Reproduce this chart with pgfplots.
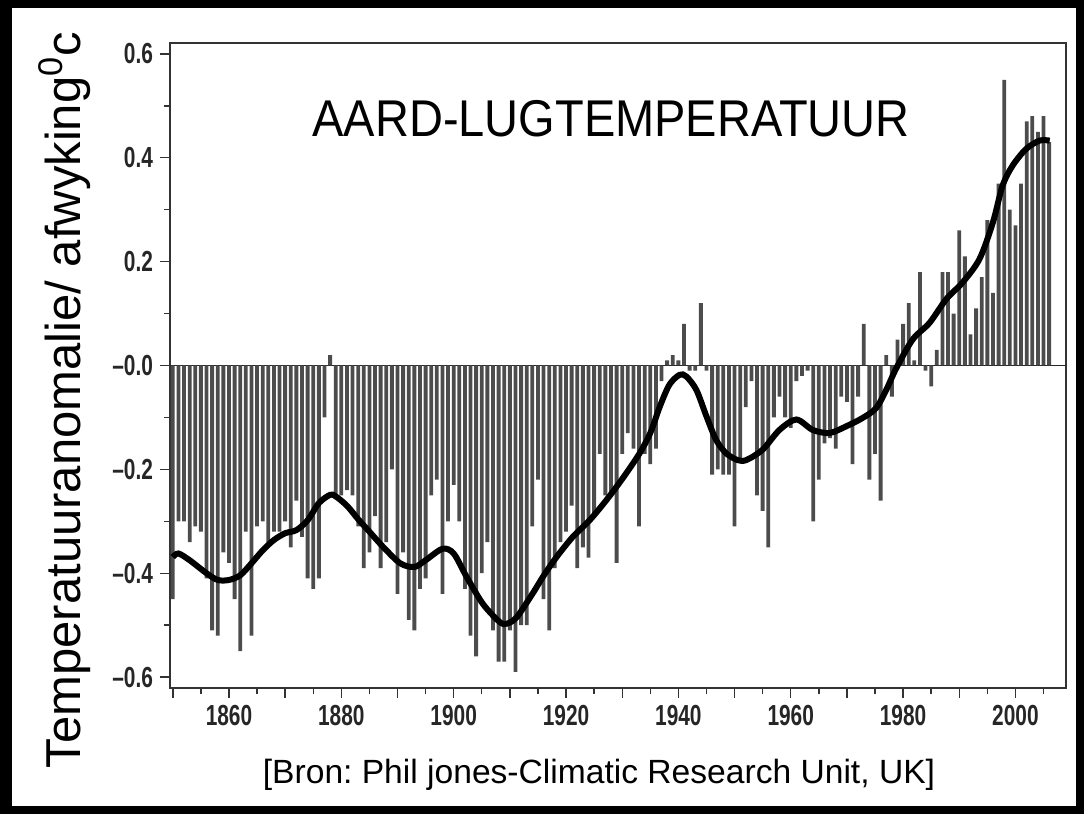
\documentclass[border=0pt]{standalone}
\usepackage{fontspec}
\setmainfont{Liberation Sans}
\usepackage{pgfplots}
\pgfplotsset{compat=1.18}
\usepackage{graphicx}
\frenchspacing

\newcommand\tl[1]{\scalebox{0.72}[1]{#1}}

% annual anomaly bars
\pgfplotstableread{
year val
1850 -0.45
1851 -0.30
1852 -0.30
1853 -0.34
1854 -0.31
1855 -0.32
1856 -0.41
1857 -0.51
1858 -0.52
1859 -0.36
1860 -0.38
1861 -0.45
1862 -0.55
1863 -0.32
1864 -0.52
1865 -0.31
1866 -0.30
1867 -0.34
1868 -0.32
1869 -0.32
1870 -0.30
1871 -0.35
1872 -0.26
1873 -0.33
1874 -0.41
1875 -0.43
1876 -0.41
1877 -0.10
1878 0.02
1879 -0.25
1880 -0.25
1881 -0.24
1882 -0.25
1883 -0.31
1884 -0.39
1885 -0.36
1886 -0.29
1887 -0.39
1888 -0.34
1889 -0.20
1890 -0.44
1891 -0.36
1892 -0.49
1893 -0.51
1894 -0.43
1895 -0.41
1896 -0.25
1897 -0.22
1898 -0.44
1899 -0.30
1900 -0.23
1901 -0.30
1902 -0.43
1903 -0.52
1904 -0.56
1905 -0.40
1906 -0.34
1907 -0.51
1908 -0.57
1909 -0.57
1910 -0.51
1911 -0.59
1912 -0.50
1913 -0.50
1914 -0.31
1915 -0.22
1916 -0.45
1917 -0.51
1918 -0.39
1919 -0.34
1920 -0.32
1921 -0.27
1922 -0.39
1923 -0.35
1924 -0.37
1925 -0.29
1926 -0.17
1927 -0.25
1928 -0.25
1929 -0.38
1930 -0.17
1931 -0.13
1932 -0.16
1933 -0.31
1934 -0.17
1935 -0.19
1936 -0.16
1937 -0.03
1938 0.01
1939 0.02
1940 0.01
1941 0.08
1942 -0.01
1943 -0.01
1944 0.12
1945 -0.01
1946 -0.21
1947 -0.20
1948 -0.21
1949 -0.21
1950 -0.31
1951 -0.18
1952 -0.08
1953 -0.03
1954 -0.25
1955 -0.28
1956 -0.35
1957 -0.10
1958 -0.06
1959 -0.10
1960 -0.12
1961 -0.03
1962 -0.02
1963 -0.01
1964 -0.30
1965 -0.22
1966 -0.15
1967 -0.14
1968 -0.16
1969 -0.06
1970 -0.07
1971 -0.19
1972 -0.06
1973 0.08
1974 -0.22
1975 -0.17
1976 -0.26
1977 0.02
1978 -0.06
1979 0.05
1980 0.08
1981 0.12
1982 0.01
1983 0.18
1984 -0.01
1985 -0.04
1986 0.03
1987 0.18
1988 0.18
1989 0.10
1990 0.26
1991 0.21
1992 0.06
1993 0.11
1994 0.17
1995 0.28
1996 0.14
1997 0.35
1998 0.55
1999 0.30
2000 0.27
2001 0.35
2002 0.47
2003 0.48
2004 0.45
2005 0.48
2006 0.43
}\bars

% smoothed curve
\pgfplotstableread{
year val
1850 -0.369
1851 -0.362
1853 -0.375
1856 -0.400
1858 -0.413
1860 -0.413
1862 -0.404
1864 -0.381
1866 -0.356
1868 -0.336
1870 -0.323
1872 -0.317
1874 -0.298
1876 -0.265
1878 -0.249
1879 -0.252
1881 -0.270
1883 -0.296
1885 -0.320
1887.5 -0.350
1890.5 -0.381
1893 -0.388
1895 -0.375
1898 -0.353
1900 -0.362
1902.3 -0.407
1905.2 -0.459
1908.2 -0.494
1909.5 -0.497
1911.2 -0.485
1914 -0.440
1916 -0.405
1918.3 -0.369
1921.2 -0.330
1924.2 -0.298
1927.2 -0.259
1930.1 -0.217
1933.1 -0.169
1935 -0.130
1936.7 -0.079
1938.4 -0.037
1940.2 -0.018
1941.4 -0.021
1943.2 -0.047
1945 -0.098
1946.7 -0.143
1948.5 -0.169
1950.5 -0.182
1952.1 -0.182
1955 -0.162
1958 -0.124
1961 -0.104
1963.9 -0.124
1966.9 -0.130
1969.9 -0.117
1972.8 -0.101
1975.2 -0.082
1977 -0.047
1978.8 -0.005
1981.7 0.050
1984.7 0.082
1987.7 0.128
1990.6 0.160
1993.6 0.205
1996.0 0.276
1997.7 0.346
1999.5 0.385
2001.9 0.417
2004.3 0.433
2006.1 0.433
}\curve

\begin{document}
\begin{tikzpicture}
\useasboundingbox (0,0) rectangle (542pt,407pt);
\begin{axis}[
    at={(85pt,63pt)}, anchor=south west,
    scale only axis,
    width=448pt, height=322.5pt,
    xmin=1849.5, xmax=2009,
    ymin=-0.621, ymax=0.621,
    axis line style={black!80, line width=0.8pt},
    tick align=outside,
    xtick pos=bottom, ytick pos=left,
    major tick length=5pt, minor tick length=3pt,
    tick style={black!80, line width=0.7pt},
    xtick={1860,1880,...,2000},
    xticklabel={\tl{\pgfmathprintnumber[1000 sep={},assume math mode=true]{\tick}}},
    minor xtick={1850,1855,...,2005},
    extra x ticks={1850,1870,...,1990},
    extra x tick labels={},
    ytick={-0.6,-0.4,...,0.6},
    yticklabels={\tl{\textendash0.6},\tl{\textendash0.4},\tl{\textendash0.2},\tl{\textendash0.0},\tl{0.2},\tl{0.4},\tl{0.6}},
    minor ytick={-0.5,-0.3,...,0.5},
    ticklabel style={font=\fontsize{14.5}{14.5}\selectfont\bfseries, text=black!85},
    extra y ticks={0},
    extra y tick labels={},
    extra y tick style={grid=major, major grid style={black!85, line width=0.8pt}},
]
\addplot[ybar, bar width=0.68, fill=black!70, draw=none] table[x=year, y=val] {\bars};
\addplot[black, line width=3pt, smooth] table[x=year, y=val] {\curve};
\end{axis}
\node[font=\fontsize{23.5}{23.5}\selectfont] at (305.5pt,347.5pt) {\scalebox{1}[1.1]{AARD-LUGTEMPERATUUR}};
\node[font=\fontsize{16.8}{16.8}\selectfont] at (299.5pt,19.5pt) {[Bron: Phil jones-Climatic Research Unit, UK]};
\node[font=\fontsize{24.5}{24.5}\selectfont, rotate=90] at (32.5pt,207pt) {Temperatuuranomalie/ afwyking\textsuperscript{0}c};
\draw[line width=4pt] (2pt,2pt) rectangle (540pt,405pt);
\fill (0,0) rectangle (6pt,407pt);
\end{tikzpicture}
\end{document}
